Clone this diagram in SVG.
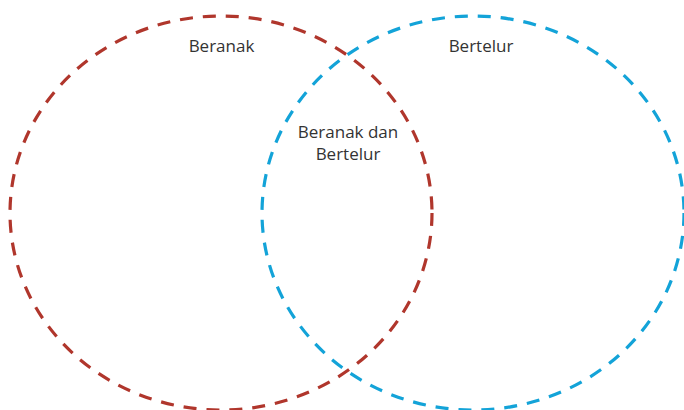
<svg xmlns="http://www.w3.org/2000/svg" width="684" height="410" viewBox="0 0 684 410">
<style>
.set{fill:none;stroke-width:3.2;stroke-dasharray:13 10;}
.red{stroke:#b0362c;}
.blue{stroke:#13a3d8;}
.lbl{font-family:"Open Sans","Noto Sans",sans-serif;font-size:17px;fill:#333;text-anchor:middle;}
</style>
<rect width="684" height="410" fill="#fff"/>
<g id="set-beranak">
<ellipse class="set red" cx="221" cy="213" rx="211" ry="197"/>
<text class="lbl" x="221.5" y="51.5">Beranak</text>
</g>
<g id="set-bertelur">
<ellipse class="set blue" cx="473" cy="213" rx="211" ry="197"/>
<text class="lbl" x="481" y="51.5">Bertelur</text>
</g>
<g id="intersection">
<text class="lbl" x="348" y="138">Beranak dan</text>
<text class="lbl" x="348" y="160">Bertelur</text>
</g>
<g id="connectors"></g>
</svg>
